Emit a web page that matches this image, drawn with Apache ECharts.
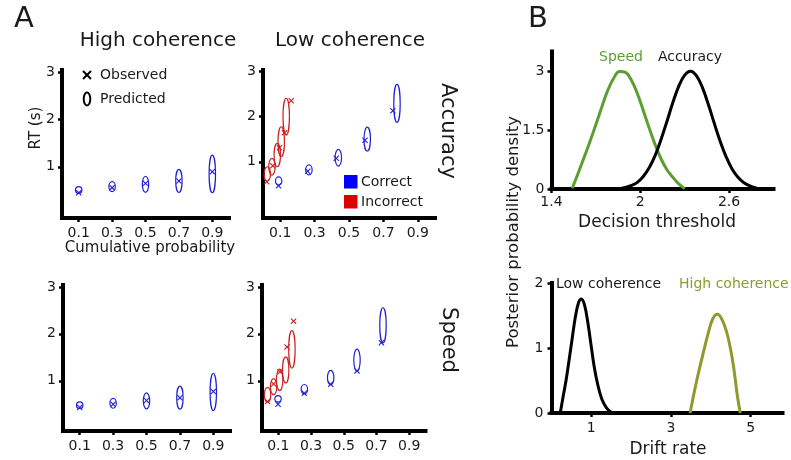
<!DOCTYPE html>
<html><head><meta charset="utf-8">
<script src="https://cdn.jsdelivr.net/npm/echarts@6/dist/echarts.min.js"></script>
<style>html,body{margin:0;padding:0;background:#fff}#c{width:791px;height:460px}</style>
</head><body><div id="c"></div>
<script>
// ---------- Panel A data ----------
const quantiles = [0.1, 0.3, 0.5, 0.7, 0.9];
const xTicksA = [0.1, 0.3, 0.5, 0.7, 0.9];
const yTicksA = [1, 2, 3];

// High coherence – Accuracy (predicted centre, predicted half-height, observed)
const hiAccPredY = [0.51, 0.58, 0.63, 0.70, 0.85];
const hiAccPredH = [0.07, 0.105, 0.17, 0.245, 0.395];
const hiAccObsY  = [0.45, 0.56, 0.65, 0.70, 0.895];

// High coherence – Speed
const hiSpdPredY = [0.48, 0.52, 0.57, 0.64, 0.76];
const hiSpdPredH = [0.07, 0.105, 0.17, 0.245, 0.395];
const hiSpdObsY  = [0.43, 0.50, 0.58, 0.64, 0.77];

// Low coherence – Accuracy, correct
const loAccCorPredX = [0.091, 0.267, 0.438, 0.606, 0.779];
const loAccCorPredY = [0.575, 0.82, 1.09, 1.50, 2.29];
const loAccCorPredH = [0.09, 0.11, 0.185, 0.265, 0.42];
const loAccCorObsX  = [0.09, 0.26, 0.426, 0.593, 0.755];
const loAccCorObsY  = [0.47, 0.79, 1.08, 1.475, 2.13];
// Low coherence – Accuracy, incorrect
const loAccErrPredX = [0.025, 0.052, 0.083, 0.106, 0.135];
const loAccErrPredY = [0.73, 0.89, 1.15, 1.445, 2.0];
const loAccErrPredH = [0.16, 0.185, 0.26, 0.33, 0.405];
const loAccErrObsX  = [0.022, 0.057, 0.096, 0.125, 0.164];
const loAccErrObsY  = [0.56, 0.91, 1.31, 1.64, 2.35];

// Low coherence – Speed, correct
const loSpdCorPredX = [0.098, 0.259, 0.42, 0.581, 0.74];
const loSpdCorPredY = [0.615, 0.82, 1.066, 1.44, 2.18];
const loSpdCorPredH = [0.07, 0.10, 0.155, 0.233, 0.375];
const loSpdCorObsX  = [0.098, 0.259, 0.42, 0.581, 0.73];
const loSpdCorObsY  = [0.50, 0.735, 0.925, 1.21, 1.81];
// Low coherence – Speed, incorrect
const loSpdErrPredX = [0.034, 0.071, 0.108, 0.145, 0.183];
const loSpdErrPredY = [0.70, 0.875, 1.02, 1.23, 1.67];
const loSpdErrPredH = [0.16, 0.17, 0.23, 0.28, 0.40];
const loSpdErrObsX  = [0.034, 0.071, 0.11, 0.153, 0.193];
const loSpdErrObsY  = [0.56, 0.93, 1.19, 1.72, 2.27];

// ---------- Panel B data ----------
const thrTicksX = [1.4, 2, 2.6];
const thrTicksY = [0, 1.5, 3];
const speedThrX = [1.54, 1.58, 1.62, 1.66, 1.70, 1.74, 1.78, 1.82, 1.86, 1.90, 1.94, 1.98, 2.02, 2.06, 2.10, 2.14, 2.18, 2.22, 2.26, 2.30];
const speedThrY = [0.02, 0.40, 0.80, 1.21, 1.64, 2.09, 2.51, 2.82, 2.99, 2.97, 2.77, 2.43, 2.00, 1.55, 1.13, 0.77, 0.49, 0.30, 0.13, 0.01];
const accThrX = [1.86, 1.90, 1.94, 1.98, 2.02, 2.06, 2.10, 2.14, 2.18, 2.22, 2.26, 2.30, 2.34, 2.38, 2.42, 2.46, 2.50, 2.54, 2.58, 2.62, 2.66, 2.70, 2.74, 2.78, 2.81];
const accThrY = [0.01, 0.04, 0.09, 0.17, 0.32, 0.54, 0.85, 1.26, 1.72, 2.20, 2.62, 2.90, 3.00, 2.88, 2.58, 2.15, 1.67, 1.21, 0.82, 0.51, 0.30, 0.16, 0.08, 0.03, 0.0];

const driftTicksX = [1, 3, 5];
const driftTicksY = [0, 1, 2];
const lowDriftX = [0.22, 0.30, 0.37, 0.45, 0.52, 0.60, 0.68, 0.75, 0.83, 0.91, 0.99, 1.07, 1.16, 1.26, 1.38, 1.52];
const lowDriftY = [0.00, 0.28, 0.52, 0.85, 1.15, 1.48, 1.70, 1.755, 1.66, 1.40, 1.06, 0.72, 0.44, 0.22, 0.08, 0.00];
const highDriftX = [3.48, 3.56, 3.64, 3.73, 3.84, 3.94, 4.05, 4.17, 4.28, 4.40, 4.49, 4.57, 4.67, 4.74];
const highDriftY = [0.00, 0.25, 0.48, 0.72, 1.00, 1.24, 1.45, 1.52, 1.44, 1.24, 1.00, 0.72, 0.25, 0.00];

// ---------- styling ----------
const FONT = 'DejaVu Sans';
const TXT = '#1a1a1a';
const BLUE = '#2020d8';
const RED = '#cc2222';
const GREEN = '#5c9e31';
const OLIVE = '#8f9a2c';
const ELL_RX = 3.2;

const chart = echarts.init(document.getElementById('c'), null, {renderer: 'canvas'});

const grids = [
  {left: 62, top: 70, width: 167, height: 148},
  {left: 263, top: 70, width: 172, height: 148},
  {left: 63, top: 285, width: 167, height: 146},
  {left: 262, top: 285, width: 163.5, height: 146},
  {left: 551.5, top: 51.5, width: 222, height: 137.5},
  {left: 551.5, top: 283, width: 231, height: 130}
];

function axisLine() { return {show: true, onZero: false, lineStyle: {color: '#000', width: 4, cap: 'square'}}; }
function xAx(gi, min, max, ticks, fmt, margin) {
  return {type: 'value', gridIndex: gi, min: min, max: max,
    axisLine: axisLine(),
    axisTick: {show: true, customValues: ticks, length: 4, lineStyle: {color: '#000', width: 2.5}},
    axisLabel: {customValues: ticks, formatter: fmt, margin: margin, fontSize: 14, color: TXT, fontFamily: FONT},
    splitLine: {show: false}};
}
function yAx(gi, min, max, ticks, fmt, margin) {
  return {type: 'value', gridIndex: gi, min: min, max: max,
    axisLine: axisLine(),
    axisTick: {show: true, customValues: ticks, length: 4, lineStyle: {color: '#000', width: 2.5}},
    axisLabel: {customValues: ticks, formatter: fmt, margin: margin, fontSize: 14, color: TXT, fontFamily: FONT},
    splitLine: {show: false}};
}
const f1 = v => v.toFixed(1);
const fG = v => String(v);

const xAxes = [
  xAx(0, 0, 1, xTicksA, f1, 8), xAx(1, 0, 1, xTicksA, f1, 8),
  xAx(2, 0, 1, xTicksA, f1, 8), xAx(3, 0, 1, xTicksA, f1, 8),
  xAx(4, 1.4, 2.9, thrTicksX, fG, 6), xAx(5, 0, 5.8, driftTicksX, fG, 8)
];
const yAxes = [
  yAx(0, -0.08, 3.04, yTicksA, fG, 7), yAx(1, -0.243, 3.03, yTicksA, fG, 7),
  yAx(2, -0.07, 3.04, yTicksA, fG, 7), yAx(3, -0.07, 3.04, yTicksA, fG, 7),
  yAx(4, 0, 3.5, thrTicksY, fG, 7), yAx(5, 0, 2, driftTicksY, fG, 8)
];

function ellipses(gi, xs, ys, hs, color) {
  return {type: 'custom', xAxisIndex: gi, yAxisIndex: gi, silent: true, clip: false, z: 3,
    data: xs.map((x, i) => [x, ys[i], hs[i]]),
    renderItem: (params, api) => {
      const c = api.coord([api.value(0), api.value(1)]);
      const s = api.size([0, api.value(2)]);
      return {type: 'ellipse', shape: {cx: c[0], cy: c[1], rx: ELL_RX, ry: s[1]},
        style: {fill: 'none', stroke: color, lineWidth: 1.2}};
    }};
}
function crosses(gi, xs, ys, color) {
  return {type: 'custom', xAxisIndex: gi, yAxisIndex: gi, silent: true, clip: false, z: 4,
    data: xs.map((x, i) => [x, ys[i]]),
    renderItem: (params, api) => {
      const c = api.coord([api.value(0), api.value(1)]);
      const d = 2.6;
      const st = {stroke: color, lineWidth: 1.1};
      return {type: 'group', children: [
        {type: 'line', shape: {x1: c[0] - d, y1: c[1] - d, x2: c[0] + d, y2: c[1] + d}, style: st},
        {type: 'line', shape: {x1: c[0] - d, y1: c[1] + d, x2: c[0] + d, y2: c[1] - d}, style: st}
      ]};
    }};
}
function curve(gi, xs, ys, color) {
  return {type: 'line', xAxisIndex: gi, yAxisIndex: gi, showSymbol: false, smooth: 0.4, silent: true,
    data: xs.map((x, i) => [x, ys[i]]), lineStyle: {color: color, width: 3}, z: 3};
}

const series = [
  ellipses(0, quantiles, hiAccPredY, hiAccPredH, BLUE), crosses(0, quantiles, hiAccObsY, BLUE),
  ellipses(2, quantiles, hiSpdPredY, hiSpdPredH, BLUE), crosses(2, quantiles, hiSpdObsY, BLUE),
  ellipses(1, loAccCorPredX, loAccCorPredY, loAccCorPredH, BLUE), crosses(1, loAccCorObsX, loAccCorObsY, BLUE),
  ellipses(1, loAccErrPredX, loAccErrPredY, loAccErrPredH, RED), crosses(1, loAccErrObsX, loAccErrObsY, RED),
  ellipses(3, loSpdCorPredX, loSpdCorPredY, loSpdCorPredH, BLUE), crosses(3, loSpdCorObsX, loSpdCorObsY, BLUE),
  ellipses(3, loSpdErrPredX, loSpdErrPredY, loSpdErrPredH, RED), crosses(3, loSpdErrObsX, loSpdErrObsY, RED),
  curve(4, speedThrX, speedThrY, GREEN), curve(4, accThrX, accThrY, '#000'),
  curve(5, lowDriftX, lowDriftY, '#000'), curve(5, highDriftX, highDriftY, OLIVE)
];

function txt(x, y, s, size, opts) {
  opts = opts || {};
  return {type: 'text', x: x, y: y, rotation: opts.rot || 0, silent: true,
    style: {text: s, fontSize: size, fontFamily: FONT, fill: opts.color || TXT,
      textAlign: opts.align || 'center', textVerticalAlign: 'middle'}};
}

const graphics = [
  txt(24, 19, 'A', 29), txt(538, 19, 'B', 29),
  txt(158, 41, 'High coherence', 20), txt(350, 41, 'Low coherence', 20),
  txt(36, 128, 'RT (s)', 15, {rot: Math.PI / 2}),
  txt(150, 248, 'Cumulative probability', 15),
  txt(447, 131, 'Accuracy', 21, {rot: -Math.PI / 2}),
  txt(448, 340, 'Speed', 21, {rot: -Math.PI / 2}),
  // legend observed / predicted
  {type: 'line', silent: true, shape: {x1: 83, y1: 71, x2: 91, y2: 79}, style: {stroke: '#000', lineWidth: 2}},
  {type: 'line', silent: true, shape: {x1: 83, y1: 79, x2: 91, y2: 71}, style: {stroke: '#000', lineWidth: 2}},
  {type: 'ellipse', silent: true, shape: {cx: 87, cy: 99, rx: 3.3, ry: 6.5}, style: {fill: 'none', stroke: '#000', lineWidth: 2}},
  txt(100, 75, 'Observed', 14, {align: 'left'}),
  txt(100, 99, 'Predicted', 14, {align: 'left'}),
  // legend correct / incorrect
  {type: 'rect', silent: true, shape: {x: 344, y: 175, width: 13.5, height: 13.5}, style: {fill: '#0000ff'}},
  {type: 'rect', silent: true, shape: {x: 344, y: 195, width: 13.5, height: 13.5}, style: {fill: '#dd0000'}},
  txt(361, 182, 'Correct', 14, {align: 'left'}),
  txt(361, 202, 'Incorrect', 14, {align: 'left'}),
  // panel B texts
  txt(514, 232, 'Posterior probability density', 16.5, {rot: Math.PI / 2}),
  txt(621, 57, 'Speed', 14, {color: GREEN}),
  txt(690, 57, 'Accuracy', 14),
  txt(657, 223, 'Decision threshold', 17),
  txt(556, 284, 'Low coherence', 14, {align: 'left'}),
  txt(679, 284, 'High coherence', 14, {align: 'left', color: OLIVE}),
  txt(668, 450, 'Drift rate', 17)
];

chart.setOption({
  animation: false,
  backgroundColor: '#fff',
  grid: grids,
  xAxis: xAxes,
  yAxis: yAxes,
  series: series,
  graphic: graphics
});
</script></body></html>
